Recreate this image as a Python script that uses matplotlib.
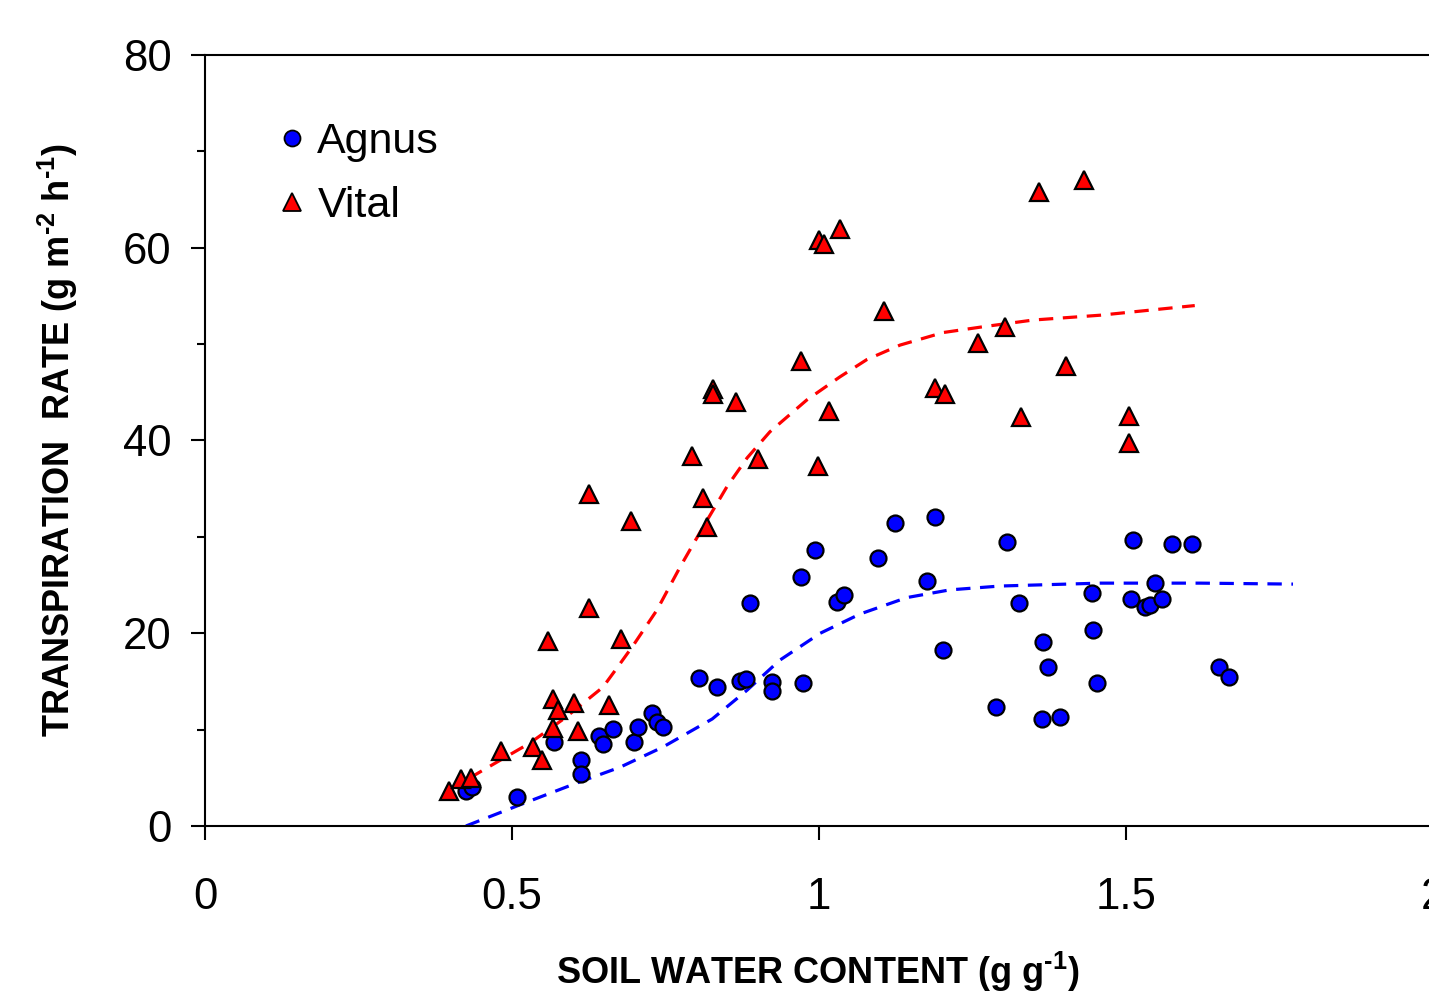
import matplotlib
matplotlib.use("Agg")
import matplotlib.pyplot as plt
from matplotlib.ticker import MultipleLocator

plt.rcParams['font.family'] = ['Liberation Sans', 'DejaVu Sans']

# Agnus observations (soil water content, transpiration rate)
agnus_x = [0.425, 0.435, 0.508, 0.568, 0.612, 0.612, 0.642, 0.648, 0.665, 0.699, 0.705,
           0.728, 0.736, 0.746, 0.805, 0.834, 0.871, 0.881, 0.888, 0.923, 0.923, 0.971,
           0.974, 0.993, 1.029, 1.041, 1.096, 1.124, 1.176, 1.189, 1.202, 1.288, 1.306,
           1.326, 1.363, 1.365, 1.373, 1.392, 1.445, 1.446, 1.453, 1.508, 1.511, 1.531,
           1.539, 1.547, 1.559, 1.575, 1.607, 1.651, 1.668]
agnus_y = [3.6, 4.0, 3.0, 8.7, 6.8, 5.4, 9.3, 8.5, 10.1, 8.7, 10.3,
           11.7, 10.8, 10.3, 15.4, 14.4, 15.0, 15.3, 23.1, 14.9, 14.0, 25.8,
           14.8, 28.6, 23.2, 24.0, 27.8, 31.4, 25.4, 32.1, 18.3, 12.3, 29.5,
           23.1, 11.1, 19.1, 16.5, 11.3, 24.2, 20.3, 14.8, 23.6, 29.7, 22.7,
           22.9, 25.2, 23.6, 29.3, 29.3, 16.5, 15.5]

# Vital observations
vital_x = [0.397, 0.417, 0.433, 0.482, 0.534, 0.549, 0.559, 0.567, 0.567, 0.575, 0.601,
           0.607, 0.625, 0.625, 0.658, 0.678, 0.694, 0.793, 0.811, 0.818, 0.827, 0.827,
           0.865, 0.901, 0.971, 0.998, 1.000, 1.008, 1.016, 1.034, 1.106, 1.189, 1.205,
           1.259, 1.303, 1.329, 1.358, 1.402, 1.432, 1.505, 1.505]
vital_y = [3.6, 4.9, 5.0, 7.8, 8.2, 6.8, 19.2, 13.2, 10.2, 12.0, 12.8,
           9.9, 34.4, 22.6, 12.6, 19.4, 31.6, 38.4, 34.0, 31.0, 45.3, 44.8,
           44.0, 38.1, 48.2, 37.4, 60.8, 60.4, 43.1, 61.9, 53.4, 45.4, 44.8,
           50.1, 51.8, 42.4, 65.8, 47.7, 67.0, 42.5, 39.7]

# Fitted curves
vital_fit_x = [0.397, 0.453, 0.529, 0.586, 0.648, 0.671, 0.697, 0.736, 0.774, 0.811, 0.850,
               0.883, 0.920, 0.980, 1.034, 1.078, 1.132, 1.202, 1.267, 1.349, 1.458, 1.612]
vital_fit_y = [3.7, 5.8, 8.6, 11.2, 14.4, 16.4, 18.7, 22.4, 26.9, 31.0, 35.2,
               38.2, 40.9, 44.2, 46.6, 48.4, 49.9, 51.2, 51.8, 52.5, 53.0, 54.0]
agnus_fit_x = [0.425, 0.513, 0.607, 0.676, 0.746, 0.826, 0.883, 0.936, 1.002, 1.067, 1.143,
               1.213, 1.295, 1.458, 1.621, 1.772]
agnus_fit_y = [0.0, 2.2, 4.5, 6.1, 8.2, 11.1, 14.1, 17.2, 20.0, 22.0, 23.7,
               24.5, 24.9, 25.2, 25.2, 25.1]

x_ticks = [0, 0.5, 1, 1.5, 2]
x_tick_labels = ['0', '0.5', '1', '1.5', '2']
y_ticks = [0, 20, 40, 60, 80]

W, H = 1429, 994
fig = plt.figure(figsize=(W / 100, H / 100), dpi=100)
left, right, bottom, top = 205, 1433, 826, 55
ax = fig.add_axes([left / W, 1 - bottom / H, (right - left) / W, (bottom - top) / H])

ax.plot(vital_fit_x, vital_fit_y, color='#ff0000', linestyle=(0, (4.5, 3)), linewidth=2.3, zorder=2)
ax.plot(agnus_fit_x, agnus_fit_y, color='#0000ff', linestyle=(0, (4.5, 3)), linewidth=2.3, zorder=2)

ax.plot(agnus_x, agnus_y, linestyle='none', marker='o', markersize=11.5, markerfacecolor='#0000ff',
        markeredgecolor='black', markeredgewidth=1.6, zorder=3, label='Agnus')
ax.plot(vital_x, vital_y, linestyle='none', marker='^', markersize=13, markerfacecolor='#ff0000',
        markeredgecolor='black', markeredgewidth=1.6, zorder=3, label='Vital')

ax.set_xlim(0, 2)
ax.set_ylim(0, 80)
ax.set_xticks(x_ticks)
ax.set_xticklabels(x_tick_labels)
ax.set_yticks(y_ticks)
ax.yaxis.set_minor_locator(MultipleLocator(10))

ax.spines['right'].set_visible(False)
for s in ['left', 'bottom', 'top']:
    ax.spines[s].set_linewidth(1.5)

ax.tick_params(axis='both', which='major', direction='out', length=10, width=1.5,
               labelsize=31.5)
ax.tick_params(axis='x', which='major', pad=27)
ax.tick_params(axis='y', which='major', pad=14)
ax.tick_params(axis='y', which='minor', direction='out', length=6, width=1.5)
ax.tick_params(top=False, right=False)

sup = lambda s: r'$^{\mathregular{' + s + r'}}$'
fig.text(818 / W, 1 - 972 / H, 'SOIL WATER CONTENT (g g' + sup('\u2010' + '1') + ')', ha='center', va='center',
         fontsize=26, fontweight='bold')
fig.text(58 / W, 1 - 440 / H, 'TRANSPIRATION  RATE (g m' + sup('\u2010' + '2') + ' h' + sup('\u2010' + '1') + ')',
         ha='center', va='center', rotation=90, fontsize=26, fontweight='bold')

leg = ax.legend(loc='upper left', bbox_to_anchor=(270 / W, 1 - 122 / H), bbox_transform=fig.transFigure,
                frameon=False, fontsize=31, markerscale=1.0, handletextpad=0.1,
                labelspacing=0.55, handlelength=1.0, borderaxespad=0, borderpad=0)
for h in leg.legend_handles:
    h.set_markeredgewidth(1.3)

fig.savefig('out.png', dpi=100)
